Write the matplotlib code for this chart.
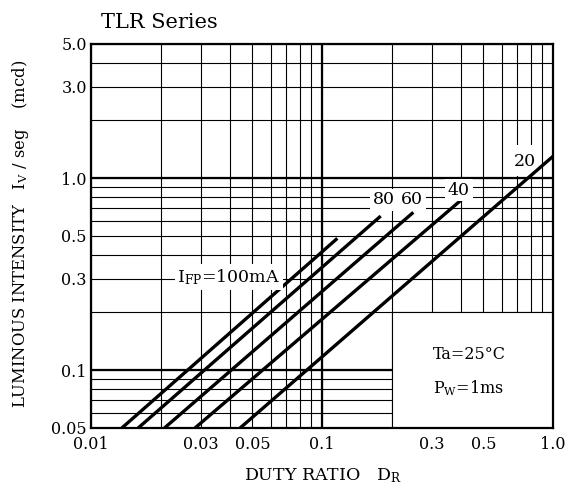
import matplotlib
matplotlib.use("Agg")
import matplotlib.pyplot as plt
from matplotlib.patches import Rectangle

plt.rcParams['font.family'] = ['DejaVu Serif']
plt.rcParams['mathtext.fontset'] = 'dejavuserif'

currents = [100, 80, 60, 40, 20]
duty_start = [0.0136, 0.0160, 0.0208, 0.0282, 0.0442]
iv_start = [0.05, 0.05, 0.05, 0.05, 0.05]
duty_end = [0.1165, 0.1795, 0.2485, 0.4036, 1.0]
iv_end = [0.486, 0.635, 0.664, 0.776, 1.30]

x_ticks = [0.01, 0.03, 0.05, 0.1, 0.3, 0.5, 1.0]
x_ticklabels = ['0.01', '0.03', '0.05', '0.1', '0.3', '0.5', '1.0']
y_ticks = [0.05, 0.1, 0.3, 0.5, 1.0, 3.0, 5.0]
y_ticklabels = ['0.05', '0.1', '0.3', '0.5', '1.0', '3.0', '5.0']
x_minor = [0.02, 0.04, 0.06, 0.07, 0.08, 0.09, 0.2, 0.4, 0.6, 0.7, 0.8, 0.9]
y_minor = [0.06, 0.07, 0.08, 0.09, 0.2, 0.4, 0.6, 0.7, 0.8, 0.9, 2.0, 4.0]

fig = plt.figure(figsize=(5.75, 4.92), dpi=100)
ax = fig.add_axes([91/575, 1 - 428/492, 462/575, 384/492])
ax.set_xscale('log')
ax.set_yscale('log')
ax.set_xlim(0.01, 1.0)
ax.set_ylim(0.05, 5.0)

ax.set_xticks(x_ticks)
ax.set_xticklabels(x_ticklabels)
ax.set_xticks(x_minor, minor=True)
ax.set_yticks(y_ticks)
ax.set_yticklabels(y_ticklabels)
ax.set_yticks(y_minor, minor=True)
ax.tick_params(which='both', length=0, labelsize=11.5)
ax.tick_params(axis='x', pad=5.5)
ax.tick_params(axis='y', pad=3)
ax.xaxis.set_minor_formatter(plt.NullFormatter())
ax.yaxis.set_minor_formatter(plt.NullFormatter())

ax.grid(which='both', color='black', lw=0.8, zorder=1.5)
# decade lines a bit heavier
ax.axhline(0.1, color='black', lw=1.6, zorder=1.5)
ax.axhline(1.0, color='black', lw=1.6, zorder=1.5)
ax.axvline(0.1, color='black', lw=1.6, zorder=1.5)

# blank box for the conditions
ax.add_patch(Rectangle((0.2, 0.05), 0.8, 0.15, facecolor='white',
                       edgecolor='black', lw=0.8, zorder=1.6))
# clear space behind the "20" label
ax.add_patch(Rectangle((0.66, 1.03), 0.19, 0.46, facecolor='white',
                       edgecolor='none', zorder=1.6))

for i in range(len(currents)):
    ax.plot([duty_start[i], duty_end[i]], [iv_start[i], iv_end[i]],
            color='black', lw=2.4, zorder=3, solid_capstyle='butt')

for s in ax.spines.values():
    s.set_linewidth(1.6)
    s.set_zorder(4)

box = dict(facecolor='white', edgecolor='none', pad=2)
ax.text(0.066, 0.306, r'I$_{\mathrm{FP}}$=100mA', fontsize=12.5,
        ha='right', va='center', bbox=box, zorder=3.5)
ax.text(0.1855, 0.77, '80', fontsize=12.5, ha='center', va='center',
        bbox=box, zorder=3.5)
ax.text(0.2453, 0.77, '60', fontsize=12.5, ha='center', va='center',
        bbox=box, zorder=3.5)
ax.text(0.3918, 0.868, '40', fontsize=12.5, ha='center', va='center',
        bbox=box, zorder=3.5)
ax.text(0.7525, 1.22, '20', fontsize=12.5, ha='center', va='center', zorder=3.5)

ax.text(0.302, 0.12, 'Ta=25°C', fontsize=11.5, ha='left', va='center')
ax.text(0.302, 0.081, r'P$_{\mathrm{W}}$=1ms', fontsize=11.5, ha='left', va='center')

fig.text(101/575, 1 - 23/492, 'TLR Series', fontsize=15, ha='left', va='center')
fig.text(323/575, 1 - 480/492, r'DUTY RATIO   D$_{\mathrm{R}}$', fontsize=12.5,
         ha='center', va='baseline')
fig.text(21/575, 1 - 234/492, r'LUMINOUS INTENSITY   I$_{\mathrm{V}}$ / seg    (mcd)',
         fontsize=11.8, rotation=90, ha='center', va='center')

fig.savefig('out.png', dpi=100)
